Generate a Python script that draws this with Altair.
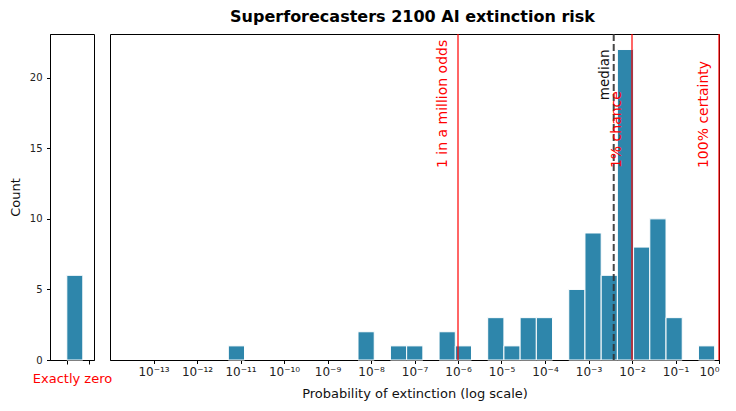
import altair as alt
import numpy as np
import pandas as pd

# ---- data ----
# 30 logarithmic bins between the smallest and largest non-zero forecast
log_min, log_max, n_bins = -11.28, -0.10, 30
counts = [1, 0, 0, 0, 0, 0, 0, 0, 2, 0,
          1, 1, 0, 2, 1, 0, 3, 1, 3, 3,
          0, 5, 9, 6, 22, 8, 10, 3, 0, 1]
zero_count = 6
median_value = 0.0038
ref_values = [1e-6, 1e-2, 1e0]
ref_labels = ["1 in a million odds", "1% chance", "100% certainty"]
tick_values = [10.0 ** k for k in range(-13, 1)]
tick_labels = ["10⁻¹³", "10⁻¹²", "10⁻¹¹", "10⁻¹⁰", "10⁻⁹", "10⁻⁸", "10⁻⁷",
               "10⁻⁶", "10⁻⁵", "10⁻⁴", "10⁻³", "10⁻²", "10⁻¹", "10⁰"]

edges = np.linspace(log_min, log_max, n_bins + 1)
hist = pd.DataFrame({"lo": 10 ** edges[:-1], "hi": 10 ** edges[1:], "count": counts})
hist = hist[hist["count"] > 0]
zero_df = pd.DataFrame({"lo": [0.0], "hi": [1.0], "count": [zero_count]})
refs = pd.DataFrame({"x": ref_values, "label": ref_labels, "y": [13.6] * 3})
med = pd.DataFrame({"x": [median_value], "label": ["median"], "y": [22.0]})

BAR = "#2e86ab"
FONT = "DejaVu Sans"
H = 326
ydom = [0, 23.1]

label_expr = "[" + ",".join("'%s'" % t for t in tick_labels) + "][round(log(datum.value)/LN10)+13]"

left = alt.Chart(zero_df).mark_bar(color=BAR, stroke="white", strokeWidth=1).encode(
    x=alt.X("lo:Q", scale=alt.Scale(domain=[-1.05, 1.7], nice=False, zero=False),
            axis=alt.Axis(values=[0, 1.4], labels=False, grid=False, tickSize=4,
                          title="Exactly zero", titleColor="red", titleFontSize=13,
                          titleFontWeight="normal", titlePadding=8)),
    x2="hi:Q",
    y=alt.Y("count:Q", scale=alt.Scale(domain=ydom, nice=False),
            axis=alt.Axis(values=[0, 5, 10, 15, 20], grid=False, tickSize=3.5,
                          labelPadding=4.5, title="Count", titleFontSize=13,
                          titleFontWeight="normal", titlePadding=7)),
    y2=alt.datum(0),
).properties(width=44, height=H)

xscale = alt.Scale(type="log", domain=[1e-14, 1], nice=False)

bars = alt.Chart(hist).mark_bar(color=BAR, stroke="white", strokeWidth=1).encode(
    x=alt.X("lo:Q", scale=xscale,
            axis=alt.Axis(values=tick_values, labelExpr=label_expr, grid=False,
                          tickSize=3.5, labelPadding=3, labelFontSize=12,
                          title="Probability of extinction (log scale)",
                          titleFontSize=13, titleFontWeight="normal", titlePadding=10)),
    x2="hi:Q",
    y=alt.Y("count:Q", scale=alt.Scale(domain=ydom, nice=False), axis=None),
    y2=alt.datum(0),
)

ref_rules = alt.Chart(refs).mark_rule(color="red", opacity=0.8, strokeWidth=1.5).encode(
    x=alt.X("x:Q", scale=xscale))

med_rule = alt.Chart(med).mark_rule(color="#333333", opacity=0.9, strokeWidth=2,
                                     strokeDash=[7, 3]).encode(
    x=alt.X("x:Q", scale=xscale))

ref_text = alt.Chart(refs).mark_text(angle=270, align="left", baseline="bottom",
                                     dy=-8, fontSize=14, color="red", font=FONT).encode(
    x=alt.X("x:Q", scale=xscale),
    y=alt.Y("y:Q", scale=alt.Scale(domain=ydom, nice=False)),
    text="label:N")

med_text = alt.Chart(med).mark_text(angle=270, align="right", baseline="bottom",
                                    dy=-1.5, fontSize=13.5, color="#111111", font=FONT).encode(
    x=alt.X("x:Q", scale=xscale),
    y=alt.Y("y:Q", scale=alt.Scale(domain=ydom, nice=False)),
    text="label:N")

main = alt.layer(bars, ref_rules, med_rule, ref_text, med_text).properties(width=609, height=H)

chart = alt.hconcat(left, main, spacing=16, bounds="flush").properties(
    title=alt.TitleParams("Superforecasters 2100 AI extinction risk", anchor="middle",
                          fontSize=16, fontWeight="bold", font=FONT, dx=48, offset=8,
                          color="black"),
    padding={"left": 0, "top": 0, "right": 0, "bottom": 0},
).configure_view(stroke="black", strokeWidth=1).configure_axis(
    domainColor="black", tickColor="black", labelColor="#222222", titleColor="#111111",
    labelFont=FONT, titleFont=FONT, labelFontSize=10,
).configure_text(font=FONT)

chart.save("out.html", embed_options={"renderer": "svg", "actions": False})
